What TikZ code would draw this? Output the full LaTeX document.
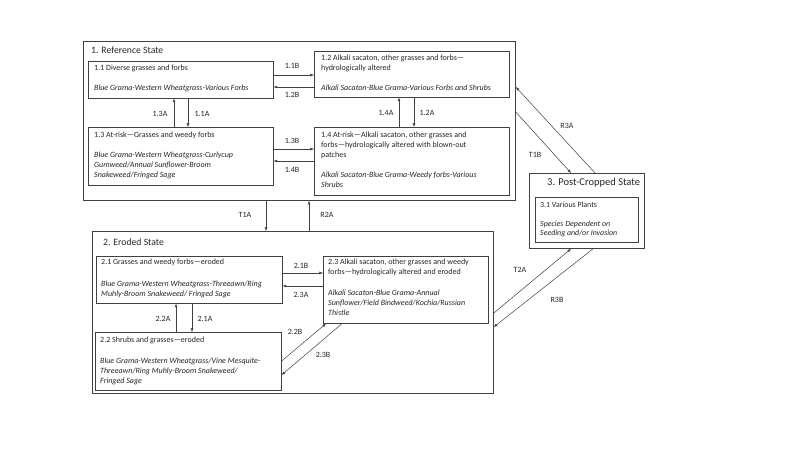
\documentclass[tikz,border=0pt]{standalone}
\usepackage{fontspec}
\setmainfont{Carlito}
\usetikzlibrary{arrows.meta}
\definecolor{ln}{HTML}{404040}
\tikzset{
  box/.style={draw=ln, line width=0.6pt, rectangle, inner sep=0pt, anchor=north west},
  sbox/.style={draw=ln, line width=0.8pt, rectangle, inner sep=0pt, anchor=north west},
  txt/.style={anchor=north west, inner sep=0pt, align=left, font=\fontsize{8}{10}\selectfont, text=black!85},
  stxt/.style={anchor=north west, inner sep=0pt, align=left, font=\fontsize{7.9}{9}\selectfont, text=black!85},
  ttl/.style={anchor=west, inner sep=0pt, font=\fontsize{9.7}{11}\selectfont, text=black!85},
  lbl/.style={inner sep=0pt, font=\fontsize{8}{9}\selectfont, text=black!85},
  arr/.style={draw=ln, line width=0.5pt, -{Latex[length=3.6pt,width=3pt]}}
}
\begin{document}
\begin{tikzpicture}[x=1pt,y=-1pt]
\useasboundingbox[fill=white] (0,0) rectangle (800,450);
% states
\node[sbox, minimum width=432pt, minimum height=159pt] (s1) at (83,41) {};
\node[sbox, minimum width=401pt, minimum height=162pt] (s2) at (92,231) {};
\node[sbox, minimum width=115pt, minimum height=75pt] (s3) at (529,173) {};
\node[ttl] (t1) at (91,50) {1. Reference State};
\node[ttl] (t2) at (103,242) {2. Eroded State};
\node[ttl, font=\fontsize{10.5}{12}\selectfont] (t3) at (547,183) {3. Post-Cropped State};
% boxes state 1
\node[box, minimum width=185pt, minimum height=37pt] (b11) at (88,61) {};
\node[box, minimum width=195pt, minimum height=46pt] (b12) at (314,51) {};
\node[box, minimum width=185pt, minimum height=58pt] (b13) at (88,127) {};
\node[box, minimum width=195pt, minimum height=68pt] (b14) at (314,127) {};
\node[txt] (x11) at (94,65) {1.1 Diverse grasses and forbs\\[10pt]\itshape Blue Grama-Western Wheatgrass-Various Forbs};
\node[txt] (x12) at (321,55) {1.2 Alkali sacaton, other grasses and forbs---\\hydrologically altered\\[10pt]\itshape Alkali Sacaton-Blue Grama-Various Forbs and Shrubs};
\node[txt] (x13) at (94,132) {1.3 At-risk---Grasses and weedy forbs\\[10pt]\itshape Blue Grama-Western Wheatgrass-Curlycup\\\itshape Gumweed/Annual Sunflower-Broom\\\itshape Snakeweed/Fringed Sage};
\node[txt] (x14) at (321,132) {1.4 At-risk---Alkali sacaton, other grasses and\\forbs---hydrologically altered with blown-out\\patches\\[10pt]\itshape Alkali Sacaton-Blue Grama-Weedy forbs-Various\\\itshape Shrubs};
% boxes state 2
\node[box, minimum width=186pt, minimum height=47pt] (b21) at (96,256) {};
\node[box, minimum width=186pt, minimum height=58pt] (b22) at (95,332) {};
\node[box, minimum width=165pt, minimum height=67pt] (b23) at (323,256) {};
\node[txt] (x21) at (101,259) {2.1 Grasses and weedy forbs---eroded\\[12pt]\itshape Blue Grama-Western Wheatgrass-Threeawn/Ring\\\itshape Muhly-Broom Snakeweed/ Fringed Sage};
\node[txt] (x22) at (100,337) {2.2 Shrubs and grasses---eroded\\[11pt]\itshape Blue Grama-Western Wheatgrass/Vine Mesquite-\\\itshape Threeawn/Ring Muhly-Broom Snakeweed/\\\itshape Fringed Sage};
\node[txt] (x23) at (328,259) {2.3 Alkali sacaton, other grasses and weedy\\forbs---hydrologically altered and eroded\\[11pt]\itshape Alkali Sacaton-Blue Grama-Annual\\\itshape Sunflower/Field Bindweed/Kochia/Russian\\\itshape Thistle};
% box state 3
\node[box, minimum width=103pt, minimum height=45pt] (b31) at (535,197) {};
\node[stxt] (x31) at (540,202) {3.1 Various Plants\\[10pt]\itshape Species Dependent on\\\itshape Seeding and/or Invasion};
% connectors state 1
\draw[arr] (b11.east |- 0,75) -- (b12.west |- 0,75);
\draw[arr] (b12.west |- 0,87) -- (b11.east |- 0,87);
\draw[arr] (b13.east |- 0,149) -- (b14.west |- 0,149);
\draw[arr] (b14.west |- 0,161) -- (b13.east |- 0,161);
\draw[arr] (b13.north -| 174,0) -- (b11.south -| 174,0);
\draw[arr] (b11.south -| 188,0) -- (b13.north -| 188,0);
\draw[arr] (b14.north -| 399,0) -- (b12.south -| 399,0);
\draw[arr] (b12.south -| 414,0) -- (b14.north -| 414,0);
% between states
\draw[arr] (s1.south -| 266,0) -- (s2.north -| 266,0);
\draw[arr] (s2.north -| 309,0) -- (s1.south -| 309,0);
\draw[arr] (s1.east |- 0,112) -- (s3.north -| 571,0);
\draw[arr] (s3.north -| 595,0) -- (s1.east |- 0,87);
\draw[arr] (s2.east |- 0,313) -- (s3.south -| 571,0);
\draw[arr] (s3.south -| 593,0) -- (s2.east |- 0,327);
% connectors state 2
\draw[arr] (b21.east |- 0,273) -- (b23.west |- 0,273);
\draw[arr] (b23.west |- 0,286) -- (b21.east |- 0,286);
\draw[arr] (b22.north -| 176,0) -- (b21.south -| 176,0);
\draw[arr] (b21.south -| 192,0) -- (b22.north -| 192,0);
\draw[arr] (b22.east |- 0,361) -- ([xshift=3pt]b23.south west);
\draw[arr] ([xshift=19pt]b23.south west) -- (b22.east |- 0,375);
% labels
\node[lbl] (l11b) at (292,66) {1.1B};
\node[lbl] (l12b) at (292,95) {1.2B};
\node[lbl] (l13b) at (292,141) {1.3B};
\node[lbl] (l14b) at (292,170) {1.4B};
\node[lbl] (l13a) at (160,114) {1.3A};
\node[lbl] (l11a) at (202,114) {1.1A};
\node[lbl] (l14a) at (386,113) {1.4A};
\node[lbl] (l12a) at (427,113) {1.2A};
\node[lbl] (lt1a) at (245,215) {T1A};
\node[lbl] (lr2a) at (327,215) {R2A};
\node[lbl] (l21b) at (301,266) {2.1B};
\node[lbl] (l23a) at (301,295) {2.3A};
\node[lbl] (l22a) at (163,319) {2.2A};
\node[lbl] (l21a) at (205,319) {2.1A};
\node[lbl] (l22b) at (295,332) {2.2B};
\node[lbl] (l23b) at (323,355) {2.3B};
\node[lbl] (lr3a) at (567,126) {R3A};
\node[lbl] (lt1b) at (535,155) {T1B};
\node[lbl] (lt2a) at (520,270) {T2A};
\node[lbl] (lr3b) at (557,300) {R3B};
\end{tikzpicture}
\end{document}
